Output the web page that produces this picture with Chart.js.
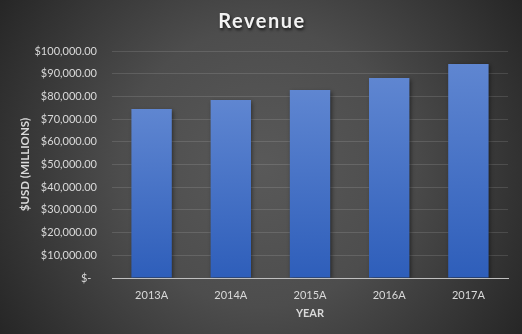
<!DOCTYPE html>
<html>
<head>
<meta charset="utf-8">
<script src="https://cdn.jsdelivr.net/npm/chart.js@4.4.1/dist/chart.umd.min.js"></script>
<style>
  html, body { margin: 0; padding: 0; background: #333; }
  #wrap {
    width: 522px; height: 334px;
    background: radial-gradient(circle farthest-corner at 50% 50%, #595959 0%, #4d4d4d 45%, #262626 100%);
  }
</style>
</head>
<body>
<div id="wrap"><canvas id="revenue" width="522" height="334"></canvas></div>
<script>
// data
const years = ['2013A', '2014A', '2015A', '2016A', '2017A'];
const revenue = [74400, 78400, 82800, 88100, 94300];
const yTicks = [0, 10000, 20000, 30000, 40000, 50000, 60000, 70000, 80000, 90000, 100000];

const chartTitle = 'Revenue';
const textColor = '#d9d9d9';

function money(v) {
  if (v === 0) return '$-  ';
  return '$' + v.toLocaleString('en-US', { minimumFractionDigits: 2, maximumFractionDigits: 2 });
}

// per bar vertical gradient
function barFill(ctx) {
  const chart = ctx.chart;
  const y = chart.scales.y;
  if (!chart.chartArea || !y || !ctx.parsed) return '#4472c4';
  const top = y.getPixelForValue(ctx.parsed.y);
  const bottom = y.getPixelForValue(0);
  if (!isFinite(top) || !isFinite(bottom)) return '#4472c4';
  const g = chart.ctx.createLinearGradient(0, top, 0, bottom);
  g.addColorStop(0, '#5f86d1');
  g.addColorStop(1, '#2e5eba');
  return g;
}

// soft shadow under bars
const barShadow = {
  id: 'barShadow',
  beforeDatasetsDraw(chart) {
    const c = chart.ctx;
    c.save();
    c.shadowColor = 'rgba(0,0,0,0.45)';
    c.shadowBlur = 4;
    c.shadowOffsetX = 1.5;
    c.shadowOffsetY = 1.5;
  },
  afterDatasetsDraw(chart) {
    chart.ctx.restore();
  }
};

// title with letter spacing + shadow
const spacedTitle = {
  id: 'spacedTitle',
  afterDraw(chart) {
    const c = chart.ctx;
    c.save();
    c.font = 'bold 20px Lato';
    c.letterSpacing = '1.5px';
    c.textAlign = 'center';
    c.textBaseline = 'middle';
    c.shadowColor = 'rgba(0,0,0,0.7)';
    c.shadowBlur = 3;
    c.shadowOffsetX = 1;
    c.shadowOffsetY = 1.5;
    c.fillStyle = '#f2f2f2';
    c.fillText(chartTitle, 262, 22);
    c.restore();
  }
};

const el = document.getElementById('revenue').getContext('2d');
const revChart = new Chart(el, {
  type: 'bar',
  data: {
    labels: years,
    datasets: [{
      label: chartTitle,
      data: revenue,
      backgroundColor: barFill,
      borderWidth: 0,
      categoryPercentage: 1,
      barPercentage: 0.51
    }]
  },
  options: {
    responsive: false,
    animation: false,
    devicePixelRatio: 1,
    layout: { padding: { top: 51, right: 14, bottom: 0, left: 0 } },
    plugins: {
      legend: { display: false },
      title: { display: false },
      tooltip: { enabled: false }
    },
    scales: {
      x: {
        grid: { display: false },
        border: { display: true, color: '#bfbfbf', width: 1 },
        ticks: {
          color: textColor,
          font: { family: 'Lato', size: 11 },
          padding: 3
        },
        title: {
          display: true,
          text: 'YEAR',
          color: textColor,
          font: { family: 'Lato', size: 11, weight: 'bold' },
          padding: { top: 0, bottom: 14 }
        },
        afterFit(scale) { scale.height = 56; }
      },
      y: {
        min: 0,
        max: 100000,
        afterBuildTicks(scale) { scale.ticks = yTicks.map(v => ({ value: v })); },
        grid: { color: 'rgba(255,255,255,0.12)', lineWidth: 1, drawTicks: false },
        border: { display: false },
        ticks: {
          color: textColor,
          font: { family: 'Lato', size: 11 },
          padding: 15,
          callback: v => money(v)
        },
        title: {
          display: true,
          text: '$USD (MILLIONS)',
          color: textColor,
          font: { family: 'Lato', size: 11.5, weight: 'bold' },
          padding: { top: 18, bottom: 0 }
        },
        afterFit(scale) { scale.width = 112; }
      }
    }
  },
  plugins: [barShadow, spacedTitle]
});
</script>
</body>
</html>
